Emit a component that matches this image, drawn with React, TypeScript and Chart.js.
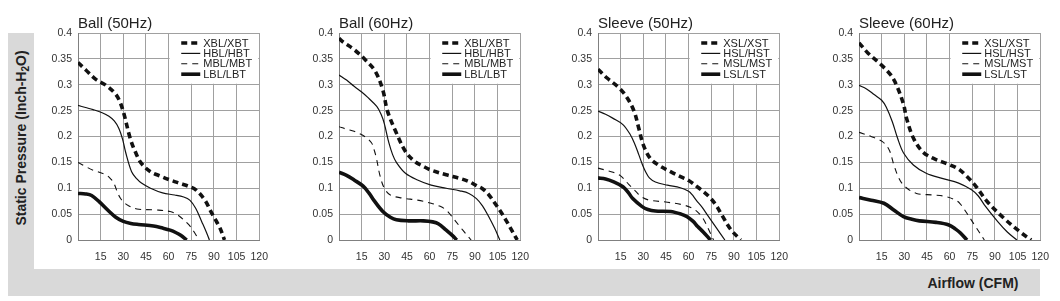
import React, { useEffect, useRef } from 'react';
import { Chart, registerables } from 'chart.js';

Chart.register(...registerables);

type Pt = [number, number];

// ---- axis ticks ----
const X_TICKS = [0, 15, 30, 45, 60, 75, 90, 105, 120];
const X_TICK_LABELS = ['', '15', '30', '45', '60', '75', '90', '105', '120'];
const Y_TICKS = [0, 0.05, 0.1, 0.15, 0.2, 0.25, 0.3, 0.35, 0.4];
const Y_TICK_LABELS = ['0', '0.05', '0.1', '0.15', '0.2', '0.25', '0.3', '0.35', '0.4'];

// ---- titles / legend names ----
const PANEL_TITLES = ['Ball (50Hz)', 'Ball (60Hz)', 'Sleeve (50Hz)', 'Sleeve (60Hz)'];
const BALL_NAMES = ['XBL/XBT', 'HBL/HBT', 'MBL/MBT', 'LBL/LBT'];
const SLEEVE_NAMES = ['XSL/XST', 'HSL/HST', 'MSL/MST', 'LSL/LST'];
const Y_AXIS_TITLE = 'Static Pressure (Inch-H';
const Y_AXIS_TITLE_SUB = '2';
const Y_AXIS_TITLE_END = 'O)';
const X_AXIS_TITLE = 'Airflow (CFM)';

// ---- data: [CFM, inch H2O] ----
const BALL50_X: Pt[] = [[0,0.343],[5,0.329],[12,0.31],[18.5,0.299],[24,0.285],[27,0.272],[30,0.248],[34.5,0.197],[38,0.17],[42,0.148],[48,0.132],[55,0.123],[61,0.116],[68,0.109],[73,0.104],[78,0.097],[84,0.077],[88,0.055],[90.5,0.042],[94,0.023],[97,0]];
const BALL50_H: Pt[] = [[0,0.26],[5,0.256],[10,0.252],[16,0.246],[20.5,0.239],[24,0.23],[27,0.216],[29.5,0.195],[31.5,0.17],[35.5,0.132],[39,0.118],[42,0.11],[48,0.1],[56,0.091],[64,0.087],[70,0.083],[74,0.077],[78,0.061],[82,0.035],[85,0.015],[87,0]];
const BALL50_M: Pt[] = [[0,0.15],[5,0.142],[10,0.135],[18.5,0.126],[22,0.117],[24,0.108],[26,0.093],[28,0.081],[30,0.074],[33,0.067],[39,0.06],[52,0.058],[61,0.055],[65,0.05],[68,0.044],[73.5,0.029],[77,0.015],[80,0]];
const BALL50_L: Pt[] = [[0,0.09],[5,0.089],[9,0.086],[14,0.074],[20,0.057],[25,0.044],[30,0.036],[35,0.032],[40,0.03],[50,0.027],[56,0.023],[61,0.019],[65,0.014],[68,0.009],[72,0]];

const BALL60_X: Pt[] = [[0,0.39],[2.5,0.383],[10,0.368],[17.5,0.348],[24,0.326],[29,0.29],[32,0.25],[37.5,0.21],[44,0.171],[50,0.152],[56,0.142],[61,0.135],[71,0.126],[80,0.119],[86,0.113],[91,0.105],[95,0.099],[99,0.088],[103,0.072],[107,0.055],[111,0.036],[114.5,0.018],[118,0]];
const BALL60_H: Pt[] = [[0,0.319],[5,0.309],[10,0.297],[15,0.286],[18.5,0.277],[25,0.258],[28,0.242],[30,0.225],[33,0.188],[35.5,0.165],[38,0.15],[44,0.129],[52,0.116],[61,0.106],[71,0.1],[80,0.095],[86,0.09],[91,0.08],[95,0.066],[99,0.046],[103,0.023],[106.5,0]];
const BALL60_M: Pt[] = [[0,0.219],[5,0.214],[10,0.21],[17,0.2],[21.5,0.188],[23.5,0.172],[25,0.155],[27,0.126],[30,0.1],[34,0.087],[42,0.081],[52,0.077],[61,0.071],[67,0.065],[71,0.058],[74,0.048],[80,0.026],[84,0.012],[87.5,0]];
const BALL60_L: Pt[] = [[0,0.131],[5,0.125],[10,0.116],[16,0.104],[20,0.09],[23,0.077],[29,0.055],[34,0.044],[38,0.039],[46,0.037],[56,0.037],[62,0.035],[66,0.031],[71,0.019],[75,0.009],[78,0]];

const SLEEVE50_X: Pt[] = [[0,0.33],[6,0.313],[14,0.294],[19.5,0.274],[24,0.248],[27,0.216],[30,0.184],[34.5,0.158],[40,0.145],[48,0.132],[55,0.122],[60,0.115],[67,0.1],[73.5,0.084],[78,0.068],[82,0.048],[88,0.02],[94.5,0]];
const SLEEVE50_H: Pt[] = [[0,0.249],[5,0.243],[10,0.235],[16.5,0.223],[21.5,0.203],[24,0.188],[27,0.165],[29.5,0.145],[31.5,0.132],[34,0.12],[38,0.112],[46,0.106],[54.5,0.101],[60,0.094],[62.5,0.087],[65,0.077],[69,0.063],[72.5,0.048],[78.5,0.023],[84,0]];
const SLEEVE50_M: Pt[] = [[0,0.139],[5,0.135],[10,0.131],[15,0.124],[20.5,0.107],[25,0.094],[29,0.083],[34,0.077],[46,0.073],[56,0.068],[62,0.062],[66,0.054],[69.5,0.042],[73.5,0.019],[76.5,0]];
const SLEEVE50_L: Pt[] = [[0,0.12],[5,0.118],[10,0.113],[16.5,0.103],[20,0.092],[23,0.08],[29,0.065],[33,0.059],[38,0.056],[48,0.055],[55,0.05],[59,0.045],[63,0.036],[66,0.026],[69.5,0.016],[74.5,0]];

const SLEEVE60_X: Pt[] = [[0,0.381],[6,0.361],[14.5,0.339],[21,0.319],[25,0.298],[29.5,0.262],[31.5,0.235],[36,0.197],[42,0.171],[49,0.158],[59.5,0.146],[66,0.137],[70,0.127],[76.5,0.107],[85,0.074],[96,0.042],[106.5,0.016],[114,0]];
const SLEEVE60_H: Pt[] = [[0,0.299],[5,0.292],[10,0.281],[15,0.27],[18,0.257],[22,0.229],[25.5,0.197],[29.5,0.168],[36,0.145],[44.5,0.129],[55,0.119],[66,0.11],[74.5,0.097],[79,0.085],[83,0.068],[92,0.035],[98,0.016],[104.5,0]];
const SLEEVE60_M: Pt[] = [[0,0.208],[8,0.2],[15.5,0.19],[20,0.174],[23,0.146],[26.5,0.119],[30.5,0.103],[38,0.09],[49,0.087],[57.5,0.084],[64,0.077],[67,0.07],[70,0.058],[76.5,0.029],[83,0]];
const SLEEVE60_L: Pt[] = [[0,0.082],[8,0.077],[16.5,0.071],[23,0.058],[29.5,0.045],[35,0.04],[40,0.037],[51,0.034],[59.5,0.029],[64,0.021],[67,0.014],[71.5,0]];

const FONT = "Arial, 'Liberation Sans', Helvetica, sans-serif";
const LINE_STYLES = [
  { width: 3.6, dash: [6, 4] },
  { width: 1.2, dash: [] as number[] },
  { width: 1.1, dash: [6, 5] },
  { width: 3.6, dash: [] as number[] },
];

const PANEL_LEFTS = [78, 339, 598, 859];
const PLOT_W = 189;
const Y_AXIS_W = 45;
const RIGHT_PAD = 12;
const CANVAS_H = 268;

function Panel({ left, title, names, series }: { left: number; title: string; names: string[]; series: Pt[][] }) {
  const ref = useRef<HTMLCanvasElement | null>(null);
  useEffect(() => {
    if (!ref.current) return;
    const deco = {
      id: 'panelDeco',
      beforeDatasetsDraw(chart: any) {
        const { ctx, chartArea, scales } = chart;
        const l = scales.x.getPixelForValue(60) + 1;
        const b = scales.y.getPixelForValue(0.3) - 1;
        ctx.save();
        ctx.fillStyle = '#ffffff';
        ctx.fillRect(l, chartArea.top + 1, chartArea.right - 1 - l, b - chartArea.top - 1);
        ctx.restore();
      },
      afterDatasetsDraw(chart: any) {
        const { ctx, chartArea } = chart;
        ctx.save();
        const r = chartArea.right;
        names.forEach((n, i) => {
          const yy = chartArea.top + 10 + i * 10.4;
          const st = LINE_STYLES[i];
          ctx.beginPath();
          ctx.setLineDash(st.dash);
          ctx.lineWidth = st.width;
          ctx.strokeStyle = '#111';
          ctx.lineCap = 'butt';
          ctx.moveTo(r - 78, yy);
          ctx.lineTo(r - 59, yy);
          ctx.stroke();
          ctx.setLineDash([]);
          ctx.fillStyle = '#222';
          ctx.font = `11px ${FONT}`;
          ctx.textBaseline = 'middle';
          ctx.textAlign = 'left';
          ctx.fillText(n, r - 56, yy + 0.5);
        });
        ctx.font = `15px ${FONT}`;
        ctx.fillStyle = '#222';
        ctx.textBaseline = 'alphabetic';
        ctx.fillText(title, chartArea.left, 28);
        ctx.restore();
      },
    };
    const chart = new Chart(ref.current, {
      type: 'line',
      data: {
        datasets: series.map((pts, i) => ({
          label: names[i],
          data: pts.map(([x, y]) => ({ x, y })),
          borderColor: '#111',
          borderWidth: LINE_STYLES[i].width,
          borderDash: LINE_STYLES[i].dash,
          borderCapStyle: 'butt',
          pointRadius: 0,
          fill: false,
          tension: 0.35,
        })),
      },
      options: {
        responsive: false,
        animation: false,
        devicePixelRatio: 1,
        layout: { padding: { top: 33, right: RIGHT_PAD, left: 0, bottom: 0 } },
        plugins: { legend: { display: false }, tooltip: { enabled: false }, title: { display: false } },
        scales: {
          x: {
            type: 'linear',
            min: 0,
            max: 120,
            afterBuildTicks: (s: any) => { s.ticks = X_TICKS.map((v) => ({ value: v })); },
            afterFit: (s: any) => { s.height = 28; },
            grid: { color: '#a0a0a0', drawTicks: false, lineWidth: 1 },
            border: { color: '#808080', width: 1 },
            ticks: {
              padding: 11,
              color: '#333',
              autoSkip: false,
              maxRotation: 0,
              font: { size: 10.5, family: FONT },
              callback: (_v: any, i: number) => X_TICK_LABELS[i],
            },
          },
          y: {
            type: 'linear',
            min: 0,
            max: 0.4,
            afterBuildTicks: (s: any) => { s.ticks = Y_TICKS.map((v) => ({ value: v })); },
            afterFit: (s: any) => { s.width = Y_AXIS_W; },
            grid: { color: '#a0a0a0', drawTicks: false, lineWidth: 1 },
            border: { color: '#808080', width: 1 },
            ticks: {
              padding: 6,
              color: '#333',
              autoSkip: false,
              font: { size: 10.5, family: FONT },
              callback: (_v: any, i: number) => Y_TICK_LABELS[i],
            },
          },
        },
      } as any,
      plugins: [deco],
    });
    return () => chart.destroy();
  }, []);
  return (
    <canvas
      ref={ref}
      width={Y_AXIS_W + PLOT_W + RIGHT_PAD}
      height={CANVAS_H}
      style={{ position: 'absolute', left: left - Y_AXIS_W, top: 0 }}
    />
  );
}

export default function App() {
  const panels = [
    { title: PANEL_TITLES[0], names: BALL_NAMES, series: [BALL50_X, BALL50_H, BALL50_M, BALL50_L] },
    { title: PANEL_TITLES[1], names: BALL_NAMES, series: [BALL60_X, BALL60_H, BALL60_M, BALL60_L] },
    { title: PANEL_TITLES[2], names: SLEEVE_NAMES, series: [SLEEVE50_X, SLEEVE50_H, SLEEVE50_M, SLEEVE50_L] },
    { title: PANEL_TITLES[3], names: SLEEVE_NAMES, series: [SLEEVE60_X, SLEEVE60_H, SLEEVE60_M, SLEEVE60_L] },
  ];
  return (
    <div style={{ position: 'absolute', left: 0, top: 0, width: 1060, height: 301, background: '#fff', overflow: 'hidden', fontFamily: FONT }}>
      <div style={{ position: 'absolute', left: 8, top: 33, width: 26, height: 263, background: '#d9d9d9' }} />
      <div style={{ position: 'absolute', left: 8, top: 269, width: 1032, height: 27, background: '#d9d9d9' }} />
      <div
        style={{
          position: 'absolute', left: 21, top: 138, transform: 'translate(-50%, -50%) rotate(-90deg)',
          whiteSpace: 'nowrap', fontWeight: 'bold', fontSize: 14, color: '#222', lineHeight: '16px',
        }}
      >
        {Y_AXIS_TITLE}<sub style={{ fontSize: 10, verticalAlign: '-3px', lineHeight: 0 }}>{Y_AXIS_TITLE_SUB}</sub>{Y_AXIS_TITLE_END}
      </div>
      <div
        style={{
          position: 'absolute', left: 973, top: 283, transform: 'translate(-50%, -50%)',
          whiteSpace: 'nowrap', fontWeight: 'bold', fontSize: 14, color: '#222', lineHeight: '16px',
        }}
      >
        {X_AXIS_TITLE}
      </div>
      {panels.map((p, i) => (
        <Panel key={i} left={PANEL_LEFTS[i]} title={p.title} names={p.names} series={p.series} />
      ))}
    </div>
  );
}
